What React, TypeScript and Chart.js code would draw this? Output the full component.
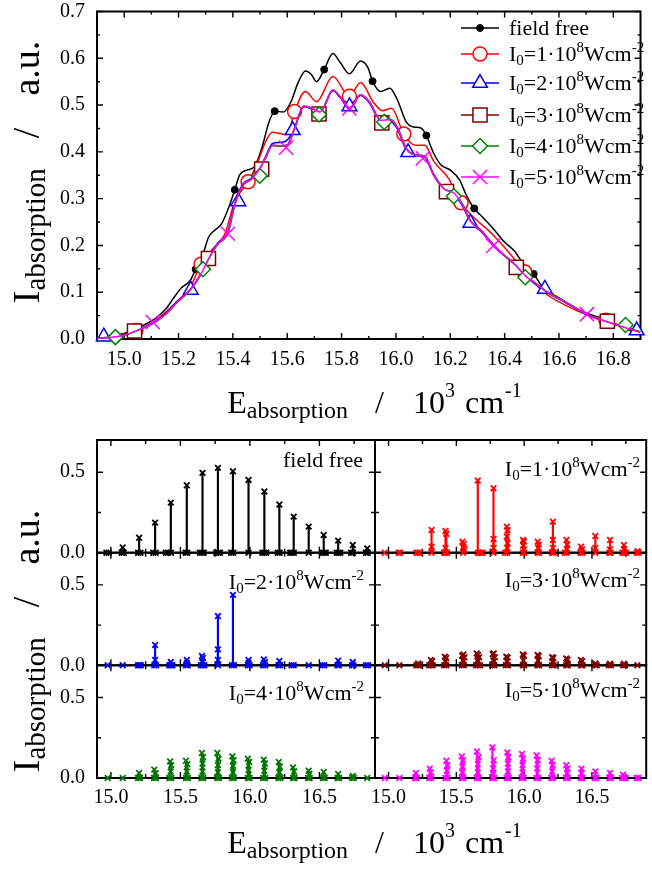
import { useEffect, useRef } from 'react';
import { Chart, registerables } from 'chart.js';

Chart.register(...registerables);

const FONT = '"Liberation Serif", "Times New Roman", Times, serif';
const W = 652;
const H = 869;

// ---------- broadened absorption spectra (E in 10^3 cm^-1, I in a.u.) ----------
const E_FREE = [14.9, 15.0, 15.047, 15.115, 15.155, 15.18, 15.21, 15.243, 15.263, 15.29,
  15.31, 15.33, 15.357, 15.384, 15.407, 15.425, 15.452, 15.479, 15.506, 15.533,
  15.554, 15.586, 15.613, 15.64, 15.667, 15.688, 15.708, 15.736, 15.768, 15.795,
  15.829, 15.87, 15.897, 15.914, 15.944, 15.977, 16.004, 16.038, 16.065, 16.092,
  16.112, 16.139, 16.166, 16.2, 16.234, 16.261, 16.288, 16.321, 16.355, 16.395,
  16.436, 16.47, 16.507, 16.544, 16.584, 16.625, 16.665, 16.706, 16.76, 16.813, 16.9];
const I_FREE = [0.002, 0.012, 0.023, 0.044, 0.065, 0.086, 0.109, 0.125, 0.149, 0.181,
  0.217, 0.231, 0.245, 0.28, 0.319, 0.351, 0.361, 0.368, 0.407, 0.464,
  0.487, 0.485, 0.506, 0.548, 0.573, 0.566, 0.55, 0.576, 0.61, 0.591,
  0.567, 0.594, 0.58, 0.551, 0.529, 0.536, 0.513, 0.464, 0.453, 0.451,
  0.435, 0.397, 0.372, 0.361, 0.34, 0.305, 0.279, 0.259, 0.238, 0.21,
  0.188, 0.16, 0.139, 0.107, 0.093, 0.079, 0.065, 0.054, 0.044, 0.03, 0.01];

const E_I1 = [14.9, 15.0, 15.047, 15.115, 15.18, 15.243, 15.283, 15.33, 15.37, 15.407,
  15.456, 15.492, 15.52, 15.545, 15.575, 15.6, 15.627, 15.667, 15.708, 15.768,
  15.829, 15.87, 15.917, 15.95, 15.984, 16.029, 16.072, 16.106, 16.14, 16.193,
  16.24, 16.288, 16.355, 16.436, 16.474, 16.544, 16.625, 16.706, 16.773, 16.9];
const I_I1 = [0.002, 0.01, 0.019, 0.039, 0.072, 0.111, 0.16, 0.195, 0.224, 0.294,
  0.336, 0.379, 0.421, 0.442, 0.439, 0.437, 0.486, 0.529, 0.507, 0.561,
  0.519, 0.548, 0.506, 0.488, 0.493, 0.438, 0.414, 0.414, 0.379, 0.344,
  0.291, 0.259, 0.224, 0.171, 0.143, 0.1, 0.072, 0.051, 0.04, 0.012];

// common sampling for the 2..5 x 10^8 W/cm^2 spectra
const E_STRONG = [14.9, 15.0, 15.05, 15.115, 15.155, 15.195, 15.243, 15.283, 15.31, 15.344,
  15.382, 15.407, 15.438, 15.465, 15.492, 15.519, 15.546, 15.573, 15.6, 15.627,
  15.661, 15.694, 15.721, 15.768, 15.795, 15.829, 15.87, 15.903, 15.944, 15.977,
  16.004, 16.038, 16.072, 16.106, 16.139, 16.18, 16.213, 16.247, 16.274, 16.315,
  16.355, 16.395, 16.443, 16.476, 16.517, 16.557, 16.611, 16.665, 16.706, 16.76, 16.813, 16.9];
const I_I2 = [0.002, 0.009, 0.02, 0.038, 0.056, 0.081, 0.106, 0.14, 0.172, 0.205,
  0.23, 0.291, 0.332, 0.342, 0.357, 0.388, 0.418, 0.42, 0.425, 0.452,
  0.497, 0.49, 0.484, 0.531, 0.516, 0.494, 0.521, 0.504, 0.465, 0.466,
  0.45, 0.405, 0.392, 0.388, 0.35, 0.318, 0.31, 0.282, 0.25, 0.229,
  0.202, 0.18, 0.156, 0.134, 0.116, 0.099, 0.082, 0.064, 0.05, 0.04, 0.03, 0.016];
const I_I3 = [0.001, 0.009, 0.019, 0.037, 0.055, 0.08, 0.106, 0.14, 0.172, 0.204,
  0.228, 0.288, 0.331, 0.342, 0.36, 0.387, 0.414, 0.413, 0.415, 0.451,
  0.497, 0.491, 0.483, 0.531, 0.516, 0.492, 0.521, 0.506, 0.466, 0.468,
  0.452, 0.407, 0.393, 0.391, 0.352, 0.32, 0.313, 0.285, 0.253, 0.232,
  0.204, 0.181, 0.157, 0.135, 0.118, 0.1, 0.083, 0.065, 0.051, 0.04, 0.03, 0.015];
const I_I4 = [0.001, 0.008, 0.018, 0.036, 0.054, 0.078, 0.104, 0.138, 0.17, 0.202,
  0.226, 0.286, 0.329, 0.34, 0.356, 0.385, 0.413, 0.412, 0.413, 0.449,
  0.498, 0.493, 0.484, 0.532, 0.518, 0.493, 0.522, 0.507, 0.469, 0.47,
  0.455, 0.408, 0.394, 0.39, 0.352, 0.32, 0.314, 0.286, 0.253, 0.231,
  0.203, 0.18, 0.156, 0.134, 0.117, 0.1, 0.083, 0.065, 0.051, 0.04, 0.03, 0.015];
const I_I5 = [0.001, 0.008, 0.019, 0.037, 0.054, 0.079, 0.105, 0.139, 0.171, 0.203,
  0.227, 0.287, 0.33, 0.34, 0.358, 0.386, 0.414, 0.413, 0.414, 0.45,
  0.498, 0.492, 0.485, 0.532, 0.517, 0.492, 0.522, 0.506, 0.467, 0.469,
  0.453, 0.407, 0.393, 0.39, 0.351, 0.319, 0.312, 0.284, 0.252, 0.231,
  0.203, 0.181, 0.157, 0.135, 0.118, 0.1, 0.083, 0.065, 0.051, 0.04, 0.03, 0.014];

// symbol positions along each curve
const MARK_E_FREE = [15.263, 15.407, 15.554, 15.736, 15.914, 16.112, 16.288, 16.507];
const MARK_I_FREE = [0.149, 0.319, 0.487, 0.576, 0.551, 0.435, 0.279, 0.139];
const MARK_E_I1 = [15.043, 15.283, 15.456, 15.627, 15.829, 16.029, 16.24, 16.474, 16.773];
const MARK_I_I1 = [0.018, 0.16, 0.336, 0.486, 0.519, 0.438, 0.291, 0.143, 0.04];
const MARK_E_I2 = [14.925, 15.245, 15.42, 15.62, 15.829, 16.045, 16.274, 16.548, 16.886];
const MARK_I_I2 = [0.005, 0.105, 0.294, 0.446, 0.497, 0.399, 0.248, 0.107, 0.018];
const MARK_E_I3 = [15.038, 15.31, 15.506, 15.717, 15.948, 16.186, 16.443, 16.778];
const MARK_I_I3 = [0.017, 0.172, 0.363, 0.481, 0.462, 0.315, 0.153, 0.038];
const MARK_E_I4 = [14.968, 15.29, 15.499, 15.717, 15.957, 16.213, 16.476, 16.845];
const MARK_I_I4 = [0.004, 0.149, 0.349, 0.48, 0.464, 0.305, 0.132, 0.03];
const MARK_E_I5 = [15.105, 15.382, 15.596, 15.829, 16.099, 16.358, 16.703];
const MARK_I_I5 = [0.036, 0.225, 0.409, 0.493, 0.386, 0.199, 0.053];

// ---------- stick spectra ----------
const FREE_STICK_E = [15.085, 15.203, 15.318, 15.431, 15.546, 15.659, 15.77, 15.878, 15.99, 16.104,
  16.212, 16.315, 16.423, 16.531, 16.635, 16.74, 16.844];
const FREE_STICK_I = [0.033, 0.093, 0.187, 0.311, 0.419, 0.496, 0.527, 0.506, 0.452, 0.38,
  0.299, 0.224, 0.162, 0.11, 0.075, 0.048, 0.027];
const FREE_ZERO_E = [14.968, 14.985, 15.078, 15.092, 15.195, 15.212, 15.305, 15.322, 15.395, 15.41,
  15.432, 15.538, 15.55, 15.64, 15.655, 15.668, 15.758, 15.772, 15.785, 15.865, 15.88, 15.99,
  16.09, 16.104, 16.118, 16.2, 16.214, 16.29, 16.302, 16.316, 16.423, 16.52, 16.532, 16.546,
  16.625, 16.637, 16.65, 16.728, 16.742, 16.835, 16.848];

const I1_STICK_E = [15.317, 15.317, 15.42, 15.426, 15.42, 15.545, 15.555, 15.55, 15.56, 15.658,
  15.774, 15.774, 15.774, 15.872, 15.878, 15.872, 15.878, 15.875, 15.992, 15.998,
  15.992, 15.998, 16.1, 16.108, 16.104, 16.212, 16.212, 16.212, 16.312, 16.318,
  16.315, 16.42, 16.426, 16.525, 16.525, 16.633, 16.633, 16.736, 16.736, 16.837];
const I1_STICK_I = [0.141, 0.037, 0.135, 0.118, 0.03, 0.068, 0.055, 0.035, 0.018, 0.448,
  0.4, 0.085, 0.03, 0.162, 0.14, 0.1, 0.06, 0.03, 0.079, 0.07,
  0.045, 0.02, 0.068, 0.05, 0.03, 0.193, 0.079, 0.03, 0.079, 0.05,
  0.02, 0.037, 0.02, 0.104, 0.03, 0.079, 0.02, 0.048, 0.02, 0.01];
const I1_ZERO_E = [14.972, 15.074, 15.086, 15.205, 15.218, 15.23, 15.317, 15.41, 15.42, 15.432,
  15.55, 15.658, 15.67, 15.682, 15.694, 15.774, 15.86, 15.875, 15.99, 16.0, 16.098, 16.11,
  16.204, 16.218, 16.3, 16.315, 16.415, 16.43, 16.525, 16.628, 16.638, 16.725, 16.738, 16.75,
  16.83, 16.843];

const I2_STICK_E = [15.318, 15.318, 15.431, 15.546, 15.546, 15.655, 15.662, 15.659, 15.77, 15.77,
  15.77, 15.878, 15.99, 15.99, 16.1, 16.108, 16.212, 16.635, 16.74];
const I2_STICK_I = [0.126, 0.033, 0.02, 0.033, 0.015, 0.058, 0.045, 0.02, 0.306, 0.099,
  0.033, 0.438, 0.033, 0.015, 0.037, 0.02, 0.027, 0.029, 0.02];
const I2_ZERO_E = [14.977, 15.085, 15.195, 15.205, 15.215, 15.312, 15.325, 15.42, 15.431, 15.442,
  15.54, 15.552, 15.648, 15.66, 15.672, 15.77, 15.87, 15.885, 15.985, 15.998, 16.095, 16.11,
  16.205, 16.218, 16.3, 16.315, 16.423, 16.52, 16.535, 16.63, 16.64, 16.735, 16.745, 16.835, 16.85];

const I3_STICK_E = [15.218, 15.312, 15.322, 15.415, 15.425, 15.42, 15.542, 15.552, 15.56, 15.548,
  15.65, 15.66, 15.668, 15.655, 15.768, 15.776, 15.784, 15.772, 15.868, 15.878,
  15.873, 15.99, 15.998, 15.994, 16.098, 16.108, 16.103, 16.206, 16.216, 16.21,
  16.31, 16.32, 16.418, 16.428, 16.525, 16.633, 16.736];
const I3_STICK_I = [0.012, 0.033, 0.025, 0.054, 0.045, 0.025, 0.06, 0.068, 0.05, 0.03,
  0.074, 0.065, 0.05, 0.03, 0.07, 0.074, 0.05, 0.03, 0.054, 0.048,
  0.025, 0.068, 0.06, 0.03, 0.064, 0.058, 0.03, 0.05, 0.045, 0.02,
  0.043, 0.035, 0.033, 0.025, 0.012, 0.01, 0.01];
const I3_ZERO_E = [14.972, 15.08, 15.205, 15.218, 15.23, 15.3, 15.312, 15.325, 15.41, 15.425,
  15.54, 15.555, 15.645, 15.66, 15.675, 15.765, 15.78, 15.865, 15.88, 15.99, 16.0, 16.098,
  16.11, 16.205, 16.218, 16.31, 16.322, 16.42, 16.43, 16.525, 16.535, 16.625, 16.64, 16.73,
  16.745, 16.835];

const I4_STICK_E = [15.203, 15.312, 15.322, 15.426, 15.434, 15.43, 15.54, 15.55, 15.546, 15.655,
  15.662, 15.659, 15.659, 15.766, 15.774, 15.77, 15.77, 15.874, 15.882, 15.878,
  15.878, 15.985, 15.995, 15.99, 16.1, 16.108, 16.104, 16.208, 16.216, 16.212,
  16.31, 16.318, 16.423, 16.428, 16.531, 16.635, 16.74];
const I4_STICK_I = [0.031, 0.052, 0.03, 0.103, 0.08, 0.04, 0.107, 0.085, 0.04, 0.155,
  0.13, 0.09, 0.04, 0.155, 0.12, 0.08, 0.035, 0.134, 0.11, 0.075,
  0.035, 0.12, 0.1, 0.05, 0.114, 0.09, 0.045, 0.099, 0.07, 0.035,
  0.066, 0.04, 0.045, 0.025, 0.037, 0.025, 0.012];
const I4_ZERO_E = [14.977, 15.085, 15.195, 15.21, 15.31, 15.325, 15.42, 15.435, 15.54, 15.555,
  15.65, 15.665, 15.765, 15.778, 15.87, 15.885, 15.985, 15.998, 16.095, 16.11, 16.205, 16.22,
  16.31, 16.322, 16.418, 16.43, 16.525, 16.538, 16.63, 16.642, 16.735, 16.748, 16.844];

const I5_STICK_E = [15.201, 15.304, 15.312, 15.426, 15.434, 15.43, 15.54, 15.55, 15.545, 15.545,
  15.652, 15.664, 15.658, 15.658, 15.766, 15.776, 15.771, 15.771, 15.876, 15.884,
  15.88, 15.88, 15.984, 15.992, 15.988, 15.988, 16.092, 16.1, 16.096, 16.203,
  16.211, 16.207, 16.31, 16.32, 16.315, 16.423, 16.423, 16.525, 16.633, 16.729];
const I5_STICK_I = [0.031, 0.058, 0.035, 0.107, 0.08, 0.045, 0.134, 0.11, 0.07, 0.035,
  0.165, 0.13, 0.085, 0.035, 0.19, 0.11, 0.06, 0.025, 0.159, 0.13,
  0.09, 0.04, 0.149, 0.12, 0.08, 0.035, 0.14, 0.11, 0.06, 0.107,
  0.08, 0.04, 0.079, 0.06, 0.03, 0.058, 0.03, 0.041, 0.031, 0.021];
const I5_ZERO_E = [14.972, 15.08, 15.195, 15.208, 15.3, 15.315, 15.42, 15.435, 15.54, 15.552,
  15.65, 15.665, 15.765, 15.778, 15.872, 15.886, 15.98, 15.995, 16.09, 16.104, 16.2, 16.214,
  16.308, 16.322, 16.418, 16.43, 16.52, 16.533, 16.628, 16.64, 16.722, 16.736, 16.75, 16.83, 16.844];

// ---------- axes ----------
const E_RANGE = [14.9, 16.9];
const TOP_I_RANGE = [0, 0.7];
const STICK_I_RANGE = [0, 0.7];
const TOP_E_TICKS = [15.0, 15.2, 15.4, 15.6, 15.8, 16.0, 16.2, 16.4, 16.6, 16.8];
const TOP_E_MINOR = [15.1, 15.3, 15.5, 15.7, 15.9, 16.1, 16.3, 16.5, 16.7];
const TOP_I_TICKS = [0, 0.1, 0.2, 0.3, 0.4, 0.5, 0.6, 0.7];
const TOP_I_MINOR = [0.05, 0.15, 0.25, 0.35, 0.45, 0.55, 0.65];
const STICK_E_TICKS = [15.0, 15.5, 16.0, 16.5];
const STICK_E_MINOR = [15.25, 15.75, 16.25, 16.75];
const STICK_I_TICKS = [0, 0.5];
const STICK_I_MINOR = [0.25];

// ---------- page geometry ----------
const TOP_BOX = { l: 97, r: 652, t: 8.5, b: 339 };
const COL_EDGES = [97, 375, 652];
const ROW_EDGES = [440, 552.7, 665.3, 778];

type Run = { t: string; s: number; dy?: number; gap?: number };

function drawRich(ctx: CanvasRenderingContext2D, runs: Run[], x: number, y: number, align: string) {
  let w = 0;
  for (const r of runs) {
    ctx.font = `${r.s}px ${FONT}`;
    w += (r.gap || 0) + ctx.measureText(r.t).width;
  }
  let cx = align === 'left' ? x : align === 'center' ? x - w / 2 : x - w;
  ctx.textAlign = 'left';
  ctx.textBaseline = 'alphabetic';
  for (const r of runs) {
    cx += r.gap || 0;
    ctx.font = `${r.s}px ${FONT}`;
    ctx.fillText(r.t, cx, y + (r.dy || 0));
    cx += ctx.measureText(r.t).width;
  }
}

const intensityRuns = (k: number): Run[] => [
  { t: 'I', s: 22 },
  { t: '0', s: 15, dy: 4 },
  { t: `=${k}\u00B710`, s: 22 },
  { t: '8', s: 15, dy: -9 },
  { t: 'Wcm', s: 22 },
  { t: '-2', s: 15, dy: -9 },
];
const FREE_RUNS: Run[] = [{ t: 'field free', s: 22 }];
const E_TITLE: Run[] = [
  { t: 'E', s: 32 },
  { t: 'absorption', s: 24, dy: 5 },
  { t: '/', s: 32, gap: 27 },
  { t: '10', s: 32, gap: 29 },
  { t: '3', s: 20, dy: -16 },
  { t: 'cm', s: 32, gap: 10 },
  { t: '-1', s: 20, dy: -16, gap: 1 },
];
const I_TITLE: Run[] = [
  { t: 'I', s: 38 },
  { t: 'absorption', s: 29, dy: 6 },
  { t: '/', s: 38, gap: 30 },
  { t: 'a.u.', s: 38, gap: 32 },
];

function drawMarker(ctx: CanvasRenderingContext2D, style: string, x: number, y: number, r: number,
  stroke: string, fill: string, lw: number) {
  ctx.save();
  ctx.beginPath();
  ctx.lineWidth = lw;
  ctx.strokeStyle = stroke;
  ctx.fillStyle = fill;
  if (style === 'circle') {
    ctx.arc(x, y, r, 0, Math.PI * 2);
  } else if (style === 'triangle') {
    for (let k = 0; k < 3; k++) {
      const a = (k * 2 * Math.PI) / 3;
      const px = x + Math.sin(a) * r;
      const py = y - Math.cos(a) * r;
      if (k === 0) ctx.moveTo(px, py); else ctx.lineTo(px, py);
    }
    ctx.closePath();
  } else if (style === 'rect') {
    const s = r * Math.SQRT1_2;
    ctx.rect(x - s, y - s, 2 * s, 2 * s);
  } else if (style === 'rectRot') {
    ctx.moveTo(x - r, y); ctx.lineTo(x, y - r); ctx.lineTo(x + r, y); ctx.lineTo(x, y + r);
    ctx.closePath();
  } else {
    const d = r * Math.SQRT1_2;
    ctx.moveTo(x - d, y - d); ctx.lineTo(x + d, y + d);
    ctx.moveTo(x + d, y - d); ctx.lineTo(x - d, y + d);
  }
  if (style !== 'crossRot') ctx.fill();
  ctx.stroke();
  ctx.restore();
}

const TOP_SERIES = [
  { e: E_FREE, i: I_FREE, me: MARK_E_FREE, mi: MARK_I_FREE, color: '#000000', style: 'circle', r: 3.5, fill: '#000000', lw: 1, label: FREE_RUNS },
  { e: E_I1, i: I_I1, me: MARK_E_I1, mi: MARK_I_I1, color: '#ff0000', style: 'circle', r: 7, fill: '#ffffff', lw: 1.5, label: intensityRuns(1) },
  { e: E_STRONG, i: I_I2, me: MARK_E_I2, mi: MARK_I_I2, color: '#0000ff', style: 'triangle', r: 8.5, fill: '#ffffff', lw: 1.5, label: intensityRuns(2) },
  { e: E_STRONG, i: I_I3, me: MARK_E_I3, mi: MARK_I_I3, color: '#800000', style: 'rect', r: 10, fill: '#ffffff', lw: 1.5, label: intensityRuns(3) },
  { e: E_STRONG, i: I_I4, me: MARK_E_I4, mi: MARK_I_I4, color: '#008000', style: 'rectRot', r: 7.5, fill: '#ffffff', lw: 1.5, label: intensityRuns(4) },
  { e: E_STRONG, i: I_I5, me: MARK_E_I5, mi: MARK_I_I5, color: '#ff00ff', style: 'crossRot', r: 10, fill: '#ffffff', lw: 1.5, label: intensityRuns(5) },
];
const LEGEND_ROW_Y = [28, 54, 83, 115, 146, 177];

const PANELS = [
  { row: 0, col: 0, e: FREE_STICK_E, i: FREE_STICK_I, zero: FREE_ZERO_E, color: '#000000', label: FREE_RUNS, labelX: 363, labelY: 467 },
  { row: 0, col: 1, e: I1_STICK_E, i: I1_STICK_I, zero: I1_ZERO_E, color: '#ff0000', label: intensityRuns(1), labelX: 640, labelY: 476 },
  { row: 1, col: 0, e: I2_STICK_E, i: I2_STICK_I, zero: I2_ZERO_E, color: '#0000ff', label: intensityRuns(2), labelX: 364, labelY: 589 },
  { row: 1, col: 1, e: I3_STICK_E, i: I3_STICK_I, zero: I3_ZERO_E, color: '#800000', label: intensityRuns(3), labelX: 640, labelY: 587 },
  { row: 2, col: 0, e: I4_STICK_E, i: I4_STICK_I, zero: I4_ZERO_E, color: '#007800', label: intensityRuns(4), labelX: 364, labelY: 700 },
  { row: 2, col: 1, e: I5_STICK_E, i: I5_STICK_I, zero: I5_ZERO_E, color: '#ff00ff', label: intensityRuns(5), labelX: 640, labelY: 697 },
];

const xy = (xs: number[], ys: number[]) => xs.map((x, k) => ({ x, y: ys[k] }));

type FrameSpec = {
  xMajor: number[]; xMinor: number[]; yMajor: number[]; yMinor: number[];
  xLabels: number[] | null; yLabels: number[] | null;
  xLabelY: number; yLabelX: number; major: number; minor: number;
  extra?: (ctx: CanvasRenderingContext2D) => void;
};

function framePlugin(spec: FrameSpec) {
  return {
    id: 'frame',
    beforeDatasetsDraw(chart: any) {
      const { ctx, chartArea: a } = chart;
      const xs = chart.scales.x;
      const ys = chart.scales.y;
      ctx.save();
      ctx.strokeStyle = '#000';
      ctx.lineWidth = 1.4;
      ctx.beginPath();
      const xt = (v: number, len: number) => {
        const p = xs.getPixelForValue(v);
        ctx.moveTo(p, a.bottom); ctx.lineTo(p, a.bottom - len);
        ctx.moveTo(p, a.top); ctx.lineTo(p, a.top + len);
      };
      const yt = (v: number, len: number) => {
        const p = ys.getPixelForValue(v);
        ctx.moveTo(a.left, p); ctx.lineTo(a.left + len, p);
        ctx.moveTo(a.right, p); ctx.lineTo(a.right - len, p);
      };
      spec.xMajor.forEach((v) => xt(v, spec.major));
      spec.xMinor.forEach((v) => xt(v, spec.minor));
      spec.yMajor.forEach((v) => yt(v, spec.major));
      spec.yMinor.forEach((v) => yt(v, spec.minor));
      ctx.stroke();
      ctx.lineWidth = 2;
      ctx.strokeRect(a.left, a.top, a.right - a.left, a.bottom - a.top);
      ctx.fillStyle = '#000';
      ctx.font = `20px ${FONT}`;
      if (spec.xLabels) {
        ctx.textAlign = 'center';
        ctx.textBaseline = 'middle';
        spec.xLabels.forEach((v) => ctx.fillText(v.toFixed(1), xs.getPixelForValue(v), spec.xLabelY));
      }
      if (spec.yLabels) {
        ctx.textAlign = 'right';
        ctx.textBaseline = 'middle';
        spec.yLabels.forEach((v) => ctx.fillText(v.toFixed(1), spec.yLabelX, ys.getPixelForValue(v)));
      }
      ctx.restore();
    },
    afterDraw(chart: any) {
      if (!spec.extra) return;
      const ctx = chart.ctx;
      ctx.save();
      ctx.fillStyle = '#000';
      spec.extra(ctx);
      ctx.restore();
    },
  };
}

function baseOptions(box: { l: number; r: number; t: number; b: number }, yRange: number[]) {
  return {
    responsive: false,
    animation: false,
    devicePixelRatio: 1,
    events: [],
    layout: { padding: { left: box.l, right: W - box.r, top: box.t, bottom: H - box.b } },
    scales: {
      x: { type: 'linear', min: E_RANGE[0], max: E_RANGE[1], display: false, offset: false },
      y: { type: 'linear', min: yRange[0], max: yRange[1], display: false },
    },
    plugins: { legend: { display: false }, tooltip: { enabled: false } },
  };
}

function drawAxisTitles(ctx: CanvasRenderingContext2D, box: { l: number; r: number }, eBase: number, iCenter: number) {
  drawRich(ctx, E_TITLE, (box.l + box.r) / 2, eBase, 'center');
  ctx.save();
  ctx.translate(39, iCenter);
  ctx.rotate(-Math.PI / 2);
  drawRich(ctx, I_TITLE, 0, 0, 'center');
  ctx.restore();
}

function topConfig() {
  const datasets: any[] = [];
  TOP_SERIES.forEach((s, k) => {
    datasets.push({
      type: 'line',
      data: xy(s.e, s.i),
      borderColor: s.color,
      borderWidth: 1.5,
      pointRadius: 0,
      cubicInterpolationMode: 'monotone',
      fill: false,
      order: 2 * (5 - k) + 1,
    });
    datasets.push({
      type: 'scatter',
      data: xy(s.me, s.mi),
      showLine: false,
      pointStyle: s.style,
      pointRadius: s.r,
      pointBorderColor: s.color,
      pointBackgroundColor: s.fill,
      pointBorderWidth: s.lw,
      clip: false,
      order: 2 * (5 - k),
    });
  });
  const spec: FrameSpec = {
    xMajor: TOP_E_TICKS, xMinor: TOP_E_MINOR, yMajor: TOP_I_TICKS, yMinor: TOP_I_MINOR,
    xLabels: TOP_E_TICKS, yLabels: TOP_I_TICKS, xLabelY: 360, yLabelX: 85, major: 6, minor: 3,
    extra: (ctx) => {
      TOP_SERIES.forEach((s, k) => {
        const y = LEGEND_ROW_Y[k];
        ctx.save();
        ctx.strokeStyle = s.color;
        ctx.lineWidth = 1.5;
        ctx.beginPath();
        ctx.moveTo(461, y);
        ctx.lineTo(499, y);
        ctx.stroke();
        ctx.restore();
        drawMarker(ctx, s.style, 480, y, s.r, s.color, s.fill, s.lw);
        ctx.fillStyle = '#000';
        drawRich(ctx, s.label, 509, y + 7, 'left');
      });
      drawAxisTitles(ctx, TOP_BOX, 413, 172);
    },
  };
  return {
    type: 'scatter',
    data: { datasets },
    options: baseOptions(TOP_BOX, TOP_I_RANGE),
    plugins: [framePlugin(spec)],
  };
}

function panelConfig(p: any) {
  const box = { l: COL_EDGES[p.col], r: COL_EDGES[p.col + 1], t: ROW_EDGES[p.row], b: ROW_EDGES[p.row + 1] };
  const bottomRow = p.row === 2;
  const spec: FrameSpec = {
    xMajor: STICK_E_TICKS, xMinor: STICK_E_MINOR, yMajor: STICK_I_TICKS, yMinor: STICK_I_MINOR,
    xLabels: bottomRow ? STICK_E_TICKS : null,
    yLabels: p.col === 0 ? STICK_I_TICKS : null,
    xLabelY: 798, yLabelX: 85, major: 6, minor: 4,
    extra: (ctx) => {
      drawRich(ctx, p.label, p.labelX, p.labelY, 'right');
      if (bottomRow && p.col === 0) {
        drawAxisTitles(ctx, { l: COL_EDGES[0], r: COL_EDGES[2] }, 853, 641);
      }
    },
  };
  const points = [...xy(p.e, p.i), ...p.zero.map((x: number) => ({ x, y: 0 }))];
  return {
    type: 'scatter',
    data: {
      datasets: [
        {
          type: 'scatter',
          data: points,
          pointStyle: 'crossRot',
          pointRadius: 4,
          pointBorderWidth: 1.8,
          pointBorderColor: p.color,
          pointBackgroundColor: p.color,
          clip: false,
          order: 0,
        },
        {
          type: 'bar',
          data: xy(p.e, p.i),
          backgroundColor: p.color,
          borderWidth: 0,
          barThickness: 1.5,
          grouped: false,
          order: 1,
        },
      ],
    },
    options: baseOptions(box, STICK_I_RANGE),
    plugins: [framePlugin(spec)],
  };
}

// lower rows first so upper panels' zero markers sit on top of shared borders
const PANEL_DRAW_ORDER = [...PANELS].sort((a, b) => b.row - a.row);

export default function App() {
  const refs = useRef<(HTMLCanvasElement | null)[]>([]);
  const count = 1 + PANEL_DRAW_ORDER.length;

  useEffect(() => {
    const configs: any[] = [topConfig(), ...PANEL_DRAW_ORDER.map(panelConfig)];
    const charts = configs.map((cfg, k) => new Chart(refs.current[k] as HTMLCanvasElement, cfg));
    return () => charts.forEach((c) => c.destroy());
  }, []);

  return (
    <div style={{ position: 'absolute', left: 0, top: 0, width: W, height: H, background: '#ffffff', overflow: 'hidden' }}>
      {Array.from({ length: count }).map((_, k) => (
        <canvas
          key={k}
          ref={(el) => { refs.current[k] = el; }}
          width={W}
          height={H}
          style={{ position: 'absolute', left: 0, top: 0, width: W, height: H }}
        />
      ))}
    </div>
  );
}
